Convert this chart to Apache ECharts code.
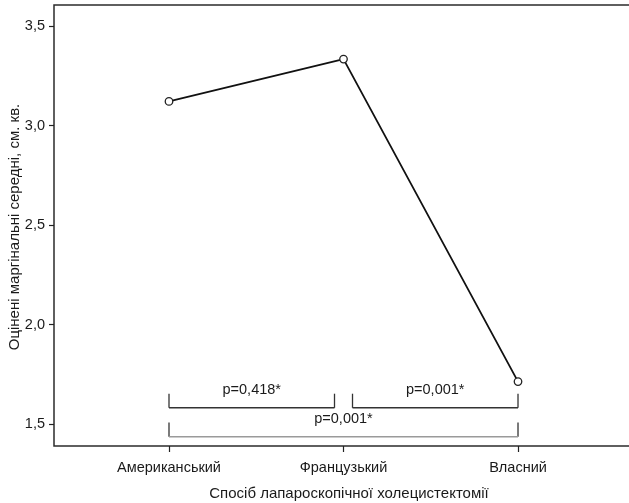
<!DOCTYPE html>
<html>
<head>
<meta charset="utf-8">
<script src="https://cdn.jsdelivr.net/npm/echarts@6/dist/echarts.min.js"></script>
<style>
  html, body { margin: 0; padding: 0; background: #fff; overflow: hidden; }
  #chart { width: 629px; height: 503px; }
</style>
</head>
<body>
<div id="chart"></div>
<script>
// Estimated marginal means by laparoscopic cholecystectomy technique
const categories = ['Американський', 'Французький', 'Власний'];
const means = [3.122, 3.335, 1.713];
const yTicks = [1.5, 2.0, 2.5, 3.0, 3.5];
const xTitle = 'Спосіб лапароскопічної холецистектомії';
const yTitle = 'Оцінені маргінальні середні, см. кв.';

// Pairwise comparisons: [from category index, to category index, label]
const comparisons = [
  [0, 1, 'p=0,418*'],
  [1, 2, 'p=0,001*'],
  [0, 2, 'p=0,001*']
];

// Bracket drawing settings: row levels on the value scale and end insets in px
const bracketRows = [
  { top: 1.652, bottom: 1.581, color: '#333' },
  { top: 1.652, bottom: 1.581, color: '#333' },
  { top: 1.507, bottom: 1.436, color: '#9a9a9a' }
];
const bracketInsets = [[0, 9], [9, 0], [0, 0]];

const FONT = 'Liberation Sans, Arial, sans-serif';
const chart = echarts.init(document.getElementById('chart'));

const lineData = means.map((v, i) => [i + 1, v]);

chart.setOption({
  animation: false,
  grid: {
    left: 54, top: 5, right: -15, bottom: 57,
    outerBoundsMode: 'none',
    containLabel: false,
    show: true, borderColor: '#2b2b2b', borderWidth: 1.5, backgroundColor: 'transparent'
  },
  // Vertical axis title, placed beside the tick labels
  graphic: [{
    type: 'text',
    x: 15, y: 227,
    rotation: Math.PI / 2,
    style: {
      text: yTitle, align: 'center', verticalAlign: 'middle',
      fill: '#1a1a1a', font: '15px ' + FONT
    }
  }],
  xAxis: {
    type: 'value',
    min: 0.341, max: 3.722,
    splitLine: { show: false },
    axisLine: { show: false },
    axisTick: { show: true, length: 6, lineStyle: { color: '#222', width: 1.2 }, customValues: [1, 2, 3] },
    axisLabel: {
      customValues: [1, 2, 3],
      formatter: v => categories[Math.round(v) - 1] || '',
      color: '#1a1a1a', fontFamily: FONT, fontSize: 14.5, margin: 14
    },
    name: xTitle,
    nameLocation: 'middle',
    nameGap: 40,
    nameTextStyle: { color: '#1a1a1a', fontFamily: FONT, fontSize: 15 }
  },
  yAxis: {
    type: 'value',
    min: 1.389, max: 3.607,
    splitLine: { show: false },
    axisLine: { show: false },
    axisTick: { show: true, length: 5, lineStyle: { color: '#222', width: 1.2 }, customValues: yTicks },
    axisLabel: {
      customValues: yTicks,
      formatter: v => v.toFixed(1).replace('.', ','),
      color: '#1a1a1a', fontFamily: FONT, fontSize: 14.5, margin: 9
    }
  },
  series: [
    {
      type: 'line',
      data: lineData,
      symbol: 'circle',
      symbolSize: 7.5,
      showSymbol: true,
      itemStyle: { color: '#fff', borderColor: '#222', borderWidth: 1.3 },
      lineStyle: { color: '#111', width: 1.8 },
      z: 3
    },
    {
      type: 'custom',
      data: comparisons.map((c, i) => [c[0] + 1, c[1] + 1, i]),
      silent: true,
      renderItem: function (params, api) {
        const idx = api.value(2);
        const row = bracketRows[idx];
        const ins = bracketInsets[idx];
        const a = api.coord([api.value(0), row.top]);
        const b = api.coord([api.value(1), row.bottom]);
        const x0 = a[0] + ins[0], x1 = b[0] - ins[1];
        const yTop = a[1], yBot = b[1];
        const dark = '#333';
        return {
          type: 'group',
          children: [
            { type: 'line', shape: { x1: x0, y1: yTop, x2: x0, y2: yBot }, style: { stroke: dark, lineWidth: 1.3 } },
            { type: 'line', shape: { x1: x1, y1: yTop, x2: x1, y2: yBot }, style: { stroke: dark, lineWidth: 1.3 } },
            { type: 'line', shape: { x1: x0, y1: yBot, x2: x1, y2: yBot }, style: { stroke: row.color, lineWidth: 1.5 } },
            {
              type: 'text',
              style: {
                text: comparisons[idx][2], x: (x0 + x1) / 2, y: yTop - 4,
                align: 'center', verticalAlign: 'middle',
                fill: '#1a1a1a', font: '14.5px ' + FONT
              }
            }
          ]
        };
      },
      z: 2
    }
  ]
});
</script>
</body>
</html>
